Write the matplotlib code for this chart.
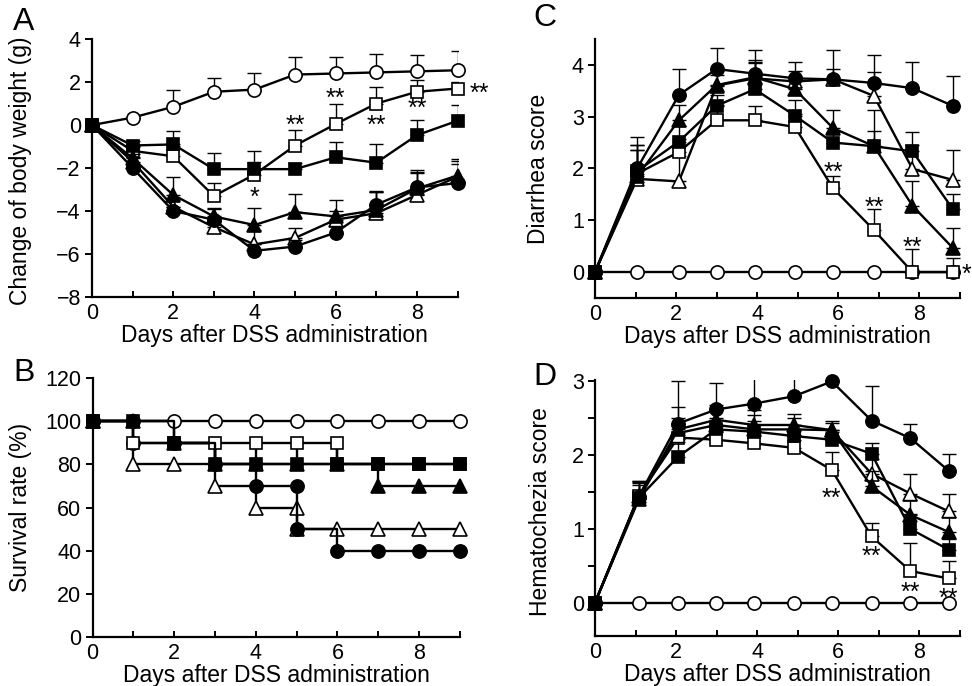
import numpy as np
import matplotlib
matplotlib.use('Agg')
import matplotlib.pyplot as plt

plt.rcParams['font.family'] = ['Liberation Sans', 'DejaVu Sans']

# ---------------- data ----------------
days = np.arange(10)

# A: change of body weight (g), mean and upper SD
a_open_circle = [0, 0.35, 0.85, 1.55, 1.65, 2.35, 2.4, 2.45, 2.5, 2.55]
a_open_circle_err = [0, 0, 0.8, 0.65, 0.75, 0.8, 0.75, 0.85, 0.75, 0.9]
a_open_square = [0, -1.2, -1.45, -3.3, -2.3, -0.95, 0.05, 1.0, 1.55, 1.7]
a_open_square_err = [0, 0.2, 0.5, 0.62, 0.6, 0.72, 0.95, 0.75, 0.55, 0.3]
a_fill_square = [0, -0.95, -0.9, -2.05, -2.05, -2.05, -1.5, -1.75, -0.47, 0.2]
a_fill_square_err = [0, 0.2, 0.62, 0.73, 0.85, 0.3, 0.72, 0.87, 0.72, 0.75]
a_fill_tri = [0, -1.55, -3.25, -4.25, -4.65, -4.05, -4.25, -3.95, -2.95, -2.35]
a_fill_tri_err = [0, 0.2, 0.85, 0.4, 0.8, 0.85, 0.75, 0.9, 0.85, 0.7]
a_open_tri = [0, -1.7, -3.8, -4.75, -5.55, -5.25, -4.4, -4.1, -3.25, -2.4]
a_open_tri_err = [0, 0.2, 0.3, 0.3, 0.65, 0.45, 0.4, 1.0, 1.0, 0.6]
a_fill_circle = [0, -2.0, -4.0, -4.4, -5.85, -5.65, -5.0, -3.7, -2.9, -2.7]
a_fill_circle_err = [0, 0.1, 0.2, 0.5, 0.3, 0.3, 0.3, 0.6, 0.7, 1.1]
a_stars = [(4, -3.05, '*'), (5, 0.3, '**'), (6, 1.55, '**'), (7, 0.3, '**'),
           (8, 1.05, '**'), (9.55, 1.75, '**')]

# B: survival rate (%), Kaplan-Meier style points
b_open_circle_x = [0, 1, 2, 3, 4, 5, 6, 7, 8, 9]
b_open_circle = [100, 100, 100, 100, 100, 100, 100, 100, 100, 100]
b_fill_square_x = [0, 1, 2, 3, 4, 5, 6, 7, 8, 9]
b_fill_square = [100, 100, 90, 80, 80, 80, 80, 80, 80, 80]
b_open_square_x = [0, 1, 2, 3, 4, 5, 6, 6, 7, 8, 9]
b_open_square = [100, 90, 90, 90, 90, 90, 90, 80, 80, 80, 80]
b_open_tri_x = [0, 1, 2, 3, 4, 5, 5, 6, 7, 8, 9]
b_open_tri = [100, 80, 80, 70, 60, 60, 50, 50, 50, 50, 50]
b_fill_circle_x = [0, 1, 2, 3, 4, 5, 5, 6, 7, 8, 9]
b_fill_circle = [100, 90, 90, 80, 70, 70, 50, 40, 40, 40, 40]
b_fill_tri_x = [0, 1, 2, 3, 4, 5, 6, 7, 8, 9]
b_fill_tri = [100, 100, 90, 80, 80, 80, 80, 70, 70, 70]

# C: diarrhea score
c_x = [0, 1.04, 2.07, 3.0, 3.94, 4.93, 5.87, 6.88, 7.83, 8.82]
c_open_circle = [0, 0, 0, 0, 0, 0, 0, 0, 0, 0]
c_open_circle_err = [0, 0, 0, 0, 0, 0, 0, 0, 0, 0]
c_fill_circle = [0, 2.0, 3.42, 3.92, 3.83, 3.74, 3.72, 3.65, 3.55, 3.21]
c_fill_circle_err = [0, 0.6, 0.5, 0.41, 0.46, 0.32, 0.2, 0.54, 0.5, 0.58]
c_fill_tri = [0, 1.85, 2.93, 3.61, 3.76, 3.53, 2.78, 2.43, 1.28, 0.47]
c_fill_tri_err = [0, 0.6, 0.3, 0.2, 0.3, 0.25, 0.35, 0.7, 0.47, 0.38]
c_fill_square = [0, 1.95, 2.52, 3.21, 3.53, 3.02, 2.5, 2.43, 2.33, 1.22]
c_fill_square_err = [0, 0.5, 0.3, 0.2, 0.5, 0.3, 0.2, 0.3, 0.37, 0.28]
c_open_square = [0, 1.9, 2.32, 2.93, 2.93, 2.8, 1.62, 0.81, 0, 0]
c_open_square_err = [0, 0.45, 0.25, 0.3, 0.28, 0.25, 0.23, 0.41, 0.45, 0.28]
c_open_tri = [0, 1.8, 1.75, 3.6, 3.74, 3.68, 3.72, 3.4, 1.99, 1.78]
c_open_tri_err = [0, 0.55, 0.5, 0.3, 0.35, 0.2, 0.57, 0.47, 0.47, 0.57]
c_stars = [(5.87, 2.05, '**'), (6.88, 1.37, '**'), (7.83, 0.6, '**'), (9.15, 0.08, '*')]

# D: hematochezia score
d_x = [0, 1.08, 2.05, 2.99, 3.93, 4.91, 5.84, 6.82, 7.78, 8.72]
d_open_circle = [0, 0, 0, 0, 0, 0, 0, 0, 0, 0]
d_open_circle_err = [0, 0, 0, 0, 0, 0, 0, 0, 0, 0]
d_fill_circle = [0, 1.44, 2.43, 2.62, 2.7, 2.8, 3.0, 2.47, 2.23, 1.79]
d_fill_circle_err = [0, 0.2, 0.57, 0.36, 0.47, 0.34, 0.21, 0.47, 0.2, 0.23]
d_fill_tri = [0, 1.4, 2.35, 2.48, 2.41, 2.41, 2.34, 1.58, 1.19, 0.96]
d_fill_tri_err = [0, 0.2, 0.3, 0.2, 0.2, 0.15, 0.12, 0.2, 0.2, 0.2]
d_open_tri = [0, 1.45, 2.3, 2.41, 2.35, 2.35, 2.34, 1.75, 1.48, 1.24]
d_open_tri_err = [0, 0.2, 0.2, 0.2, 0.2, 0.15, 0.1, 0.2, 0.27, 0.24]
d_fill_square = [0, 1.42, 1.98, 2.35, 2.32, 2.26, 2.21, 2.02, 1.0, 0.72]
d_fill_square_err = [0, 0.2, 0.2, 0.15, 0.15, 0.15, 0.1, 0.14, 0.2, 0.15]
d_open_square = [0, 1.45, 2.24, 2.21, 2.16, 2.1, 1.8, 0.9, 0.43, 0.33]
d_open_square_err = [0, 0.2, 0.15, 0.1, 0.1, 0.1, 0.24, 0.18, 0.38, 0.24]
d_stars = [(5.84, 1.5, '**'), (6.82, 0.71, '**'), (7.78, 0.22, '**'), (8.72, 0.15, '**')]

xlabel = 'Days after DSS administration'

# ---------------- styles ----------------
MS = 9.5
LW = 1.7
FS = 16.5
styles = {
    'open_circle': dict(marker='o', mfc='white', ms=MS),
    'open_tri': dict(marker='^', mfc='white', ms=MS + 1),
    'open_square': dict(marker='s', mfc='white', ms=MS - 0.5),
    'fill_tri': dict(marker='^', mfc='black', ms=MS + 1),
    'fill_circle': dict(marker='o', mfc='black', ms=MS),
    'fill_square': dict(marker='s', mfc='black', ms=MS - 0.5),
}
order = ['open_circle', 'open_tri', 'open_square', 'fill_tri', 'fill_circle', 'fill_square']

fig = plt.figure(figsize=(9.72, 6.86), dpi=100)
axA = fig.add_axes([0.0947, 0.567, 0.376, 0.376])
axB = fig.add_axes([0.0952, 0.0714, 0.378, 0.3776])
axC = fig.add_axes([0.6121, 0.5656, 0.3755, 0.3776])
axD = fig.add_axes([0.6121, 0.0729, 0.3755, 0.3732])


def style_axes(ax):
    for s in ['top', 'right']:
        ax.spines[s].set_visible(False)
    for s in ['left', 'bottom']:
        ax.spines[s].set_linewidth(1.6)
    ax.tick_params(axis='x', direction='in', length=4, width=1.4, labelsize=FS - 1, pad=4)
    ax.tick_params(axis='y', direction='out', length=5, width=1.4, labelsize=FS - 1, pad=3)
    ax.set_xlim(0, 9)
    ax.set_xticks(np.arange(10))
    ax.set_xticklabels(['0', '', '2', '', '4', '', '6', '', '8', ''])
    ax.set_xlabel(xlabel, fontsize=FS, labelpad=0)


def draw_series(ax, x, data):
    for i, key in enumerate(order):
        y, err = data[key]
        z = 3 + i
        ax.errorbar(x, y, yerr=[np.zeros(len(err)), err], fmt='none', ecolor='black',
                    elinewidth=1.0, capsize=5, capthick=1.0, zorder=z)
        ax.plot(x, y, color='black', lw=LW, mec='black', mew=1.2, zorder=z + 0.5,
                clip_on=False, **styles[key])


def add_stars(ax, stars):
    for x, y, s in stars:
        ax.annotate(s, (x, y), xytext=(0, -0.55 * 18), textcoords='offset points',
                    ha='center', va='baseline', fontsize=18, annotation_clip=False)


# ---- A ----
draw_series(axA, days, {
    'open_circle': (a_open_circle, a_open_circle_err),
    'open_tri': (a_open_tri, a_open_tri_err),
    'open_square': (a_open_square, a_open_square_err),
    'fill_tri': (a_fill_tri, a_fill_tri_err),
    'fill_circle': (a_fill_circle, a_fill_circle_err),
    'fill_square': (a_fill_square, a_fill_square_err),
})
style_axes(axA)
axA.set_ylim(-8, 4)
axA.set_yticks(np.arange(-8, 5, 2))
axA.set_ylabel('Change of body weight (g)', fontsize=FS)
axA.yaxis.set_label_coords(-0.165, 0.49)
add_stars(axA, a_stars)

# ---- B ----
b_series = [
    ('fill_tri', b_fill_tri_x, b_fill_tri),
    ('open_tri', b_open_tri_x, b_open_tri),
    ('fill_circle', b_fill_circle_x, b_fill_circle),
    ('open_square', b_open_square_x, b_open_square),
    ('open_circle', b_open_circle_x, b_open_circle),
    ('fill_square', b_fill_square_x, b_fill_square),
]
for i, (key, x, y) in enumerate(b_series):
    axB.plot(x, y, drawstyle='steps-post', color='black', lw=LW, mec='black', mew=1.2,
             zorder=3 + i, clip_on=False, **styles[key])
# connectors where the open-square group sits above the filled-square group
sq_first = {}
for xx, yy in zip(b_open_square_x, b_open_square):
    sq_first.setdefault(xx, yy)
sq_day = np.array([sq_first[d] for d in b_fill_square_x])
fsq = np.array(b_fill_square)
mask = (sq_day > fsq) & (np.array(b_fill_square_x) > 1)
axB.vlines(np.array(b_fill_square_x)[mask], fsq[mask], sq_day[mask], color='black',
           lw=LW, zorder=2)
style_axes(axB)
axB.set_ylim(0, 120)
axB.set_yticks(np.arange(0, 121, 20))
axB.set_ylabel('Survival rate (%)', fontsize=FS)
axB.yaxis.set_label_coords(-0.165, 0.5)

# ---- C ----
draw_series(axC, c_x, {
    'open_circle': (c_open_circle, c_open_circle_err),
    'open_tri': (c_open_tri, c_open_tri_err),
    'open_square': (c_open_square, c_open_square_err),
    'fill_tri': (c_fill_tri, c_fill_tri_err),
    'fill_circle': (c_fill_circle, c_fill_circle_err),
    'fill_square': (c_fill_square, c_fill_square_err),
})
style_axes(axC)
axC.set_ylim(-0.5, 4.5)
axC.set_yticks(np.arange(0, 5))
axC.set_ylabel('Diarrhea score', fontsize=FS)
axC.yaxis.set_label_coords(-0.123, 0.5)
add_stars(axC, c_stars)

# ---- D ----
draw_series(axD, d_x, {
    'open_circle': (d_open_circle, d_open_circle_err),
    'open_tri': (d_open_tri, d_open_tri_err),
    'open_square': (d_open_square, d_open_square_err),
    'fill_tri': (d_fill_tri, d_fill_tri_err),
    'fill_circle': (d_fill_circle, d_fill_circle_err),
    'fill_square': (d_fill_square, d_fill_square_err),
})
style_axes(axD)
axD.set_ylim(-0.45, 3.02)
axD.set_yticks(np.arange(0, 3.01, 0.5))
axD.set_yticklabels(['0', '', '1', '', '2', '', '3'])
axD.set_ylabel('Hematochezia score', fontsize=FS)
axD.yaxis.set_label_coords(-0.118, 0.485)
add_stars(axD, d_stars)

# panel letters
for letter, (px, py) in zip('ABCD', [(24, 22), (24, 373), (545, 18), (545, 377)]):
    fig.text(px / 972, 1 - py / 686, letter, fontsize=23, ha='center', va='center')

fig.savefig('out.png', dpi=100)
